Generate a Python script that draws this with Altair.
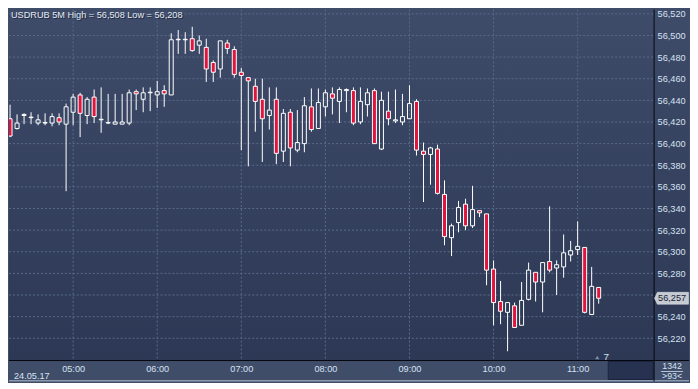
import altair as alt
import pandas as pd

# ---------------- data ----------------
first_minute = 250          # 04:10, one candle every 5 minutes
step = 5
opens = [56417, 56423, 56414, 56426, 56424, 56419, 56419, 56419, 56424, 56418,
         56429, 56445, 56426, 56443, 56422, 56419, 56418, 56418, 56419, 56448,
         56441, 56447, 56445, 56449, 56445, 56496, 56496, 56497, 56491, 56489,
         56475, 56469, 56493, 56487, 56466, 56461, 56453, 56441, 56426, 56441,
         56393, 56429, 56394, 56400, 56434, 56414, 56434, 56446, 56439, 56449,
         56449, 56420, 56436, 56449, 56395, 56430, 56421, 56420, 56423, 56439,
         56393, 56390, 56395, 56353, 56313, 56327, 56344, 56324, 56338, 56335,
         56284, 56254, 56244, 56250, 56232, 56256, 56281, 56272, 56291, 56285,
         56286, 56297, 56302, 56304, 56242, 56267]
highs = [56426, 56436, 56427, 56428, 56429, 56427, 56428, 56428, 56428, 56437,
         56446, 56447, 56443, 56450, 56452, 56446, 56446, 56446, 56450, 56450,
         56452, 56452, 56458, 56454, 56502, 56505, 56503, 56508, 56500, 56497,
         56477, 56495, 56496, 56490, 56470, 56461, 56460, 56460, 56452, 56452,
         56432, 56432, 56431, 56443, 56451, 56451, 56450, 56452, 56452, 56451,
         56452, 56452, 56451, 56451, 56448, 56448, 56450, 56446, 56454, 56441,
         56401, 56397, 56399, 56366, 56326, 56347, 56349, 56361, 56338, 56335,
         56292, 56273, 56253, 56253, 56272, 56290, 56281, 56290, 56342, 56292,
         56316, 56310, 56328, 56304, 56286, 56267]
lows = [56415, 56406, 56413, 56418, 56418, 56417, 56417, 56416, 56417, 56356,
        56417, 56406, 56418, 56419, 56410, 56418, 56418, 56418, 56417, 56431,
        56429, 56430, 56433, 56434, 56445, 56483, 56483, 56485, 56483, 56457,
        56457, 56461, 56483, 56461, 56394, 56379, 56411, 56383, 56413, 56381,
        56383, 56379, 56392, 56392, 56411, 56414, 56425, 56427, 56419, 56429,
        56417, 56418, 56425, 56400, 56394, 56417, 56419, 56417, 56423, 56389,
        56346, 56362, 56353, 56306, 56296, 56318, 56320, 56322, 56332, 56269,
        56232, 56233, 56208, 56230, 56232, 56255, 56254, 56244, 56281, 56260,
        56276, 56291, 56297, 56243, 56242, 56252]
closes = [56424, 56407, 56419, 56427, 56424.5, 56422, 56419.5, 56425, 56420, 56434,
          56443, 56428, 56441, 56425, 56422.5, 56419.5, 56420, 56420, 56447, 56446,
          56447, 56447.5, 56448, 56446, 56496, 56496.5, 56496.5, 56486, 56495, 56469,
          56466, 56495, 56488, 56464, 56463, 56458, 56439, 56423, 56431, 56391,
          56428, 56396, 56401, 56435, 56413, 56438, 56447, 56442, 56450, 56450,
          56419, 56439, 56447, 56400, 56440, 56423, 56422, 56425, 56437, 56394,
          56390, 56396, 56354, 56314, 56324, 56341, 56324, 56339, 56336, 56283,
          56253, 56245, 56253, 56230, 56255, 56283, 56272, 56290, 56283, 56288,
          56299, 56301, 56305, 56244, 56268, 56257]

title_text = "USDRUB 5M High = 56,508 Low = 56,208"
date_text = "24.05.17"
hour_ticks = [300, 360, 420, 480, 540, 600, 660]          # 05:00 ... 11:00
price_ticks = list(range(56220, 56521, 20))
last_price = [56257]
corner_top, corner_bottom = "1342", ">93<"
bar_count_text = "7"

# ---------------- layout / style ----------------
W, H = 647, 352           # plot area
RB, BB = 35, 21           # right axis band, bottom axis band (whole chart 682 x 373)
x_dom = [254.25, 714.55]
y_dom = [56199.43, 56523.97]
FONT = "Liberation Sans"
FS = 9.2
RED = "#e0143c"
GRID = "#586a8c"
LABEL = "#d6e2f2"

df = pd.DataFrame({"o": opens, "h": highs, "l": lows, "c": closes})
df["t"] = [first_minute + step * i for i in range(len(df))]
df["top"] = df[["o", "c"]].max(axis=1)
df["bot"] = df[["o", "c"]].min(axis=1)
df["dir"] = ["down" if c < o else "up" for o, c in zip(df.o, df.c)]

xscale = alt.Scale(domain=x_dom, nice=False, zero=False, padding=0)
yscale = alt.Scale(domain=y_dom, nice=False, zero=False, padding=0)
xaxis = alt.Axis(values=hour_ticks, labelExpr="utcFormat(datum.value*60000, '%H:%M')",
                 grid=False, ticks=False, domain=False, labelPadding=4, labelFlush=False,
                 labelFont=FONT, labelFontSize=FS, labelColor=LABEL, title=None, zindex=1)
yaxis = alt.Axis(orient="right", values=[v for v in price_ticks if v != 56260], format=",d",
                 grid=False, ticks=False, domain=False, labelPadding=3,
                 labelFont=FONT, labelFontSize=FS, labelColor=LABEL, title=None, zindex=1)


def X(f):
    return alt.X(f, type="quantitative", scale=xscale, axis=xaxis)


def Y(f):
    return alt.Y(f, type="quantitative", scale=yscale, axis=yaxis)


one = pd.DataFrame({"a": [0]})

bg = alt.Chart(one).mark_rect(
    fill=alt.Gradient(gradient="linear", x1=0, x2=0, y1=0, y2=1,
                      stops=[alt.GradientStop(color="#3e4b69", offset=0),
                             alt.GradientStop(color="#2c3854", offset=1)])
).encode(x=alt.value(0), x2=alt.value(W + RB), y=alt.value(0), y2=alt.value(H))

bottom_line = alt.Chart(one).mark_rect(fill="#8c98ae").encode(
    x=alt.value(0), x2=alt.value(W + RB), y=alt.value(H + BB - 1.5), y2=alt.value(H + BB))
dark_box = alt.Chart(one).mark_rect(fill="#26324f", stroke="#1b2440", strokeWidth=1).encode(
    x=alt.value(W - 46), x2=alt.value(W - 1), y=alt.value(H + 1), y2=alt.value(H + BB - 2))

hgrid = alt.Chart(pd.DataFrame({"v": price_ticks})).mark_rule(
    color=GRID, strokeDash=[2, 2], strokeWidth=1).encode(
    y=Y("v"), x=alt.value(0), x2=alt.value(W))
vgrid = alt.Chart(pd.DataFrame({"m": hour_ticks})).mark_rule(
    color=GRID, strokeDash=[2, 2], strokeWidth=1).encode(
    x=X("m"), y=alt.value(0), y2=alt.value(H))

base = alt.Chart(df)
wick_hi = base.mark_rule(color="white", strokeWidth=1, clip=True).encode(x=X("t"), y=Y("h"), y2="top")
wick_lo = base.mark_rule(color="white", strokeWidth=1, clip=True).encode(x=X("t"), y=Y("bot"), y2="l")
bodies_up = base.transform_filter("datum.dir == 'up'").mark_bar(
    size=4, fill="transparent", stroke="white", strokeWidth=1, clip=True).encode(
    x=X("t"), y=Y("o"), y2="c")
bodies_dn = base.transform_filter("datum.dir == 'down'").mark_bar(
    size=4, fill=RED, stroke="white", strokeWidth=1, clip=True).encode(
    x=X("t"), y=Y("o"), y2="c")

frame_v = alt.Chart(one).mark_rule(color="#05080f", strokeWidth=1).encode(
    x=alt.value(W), y=alt.value(0), y2=alt.value(H + BB))
frame_h = alt.Chart(one).mark_rule(color="#05080f", strokeWidth=1).encode(
    x=alt.value(0), x2=alt.value(W + RB), y=alt.value(H))

pdf = pd.DataFrame({"p": last_price})
pdf["lbl"] = ["{:,}".format(p) for p in last_price]
price_box = alt.Chart(pdf).mark_point(
    shape="M -1 0 L -0.84 -0.35 L 1 -0.35 L 1 0.35 L -0.84 0.35 Z",
    filled=True, fill="#c5cad3", stroke="#e6eaf0", strokeWidth=0.5, opacity=1, size=1156
).encode(x=alt.value(W + 17.5), y=Y("p"))
price_txt = alt.Chart(pdf).mark_text(
    align="left", baseline="middle", font=FONT, fontSize=FS, color="#1c2436"
).encode(x=alt.value(W + 4), y=Y("p"), text="lbl:N")

title_shadow = alt.Chart(one).mark_text(
    text=title_text, align="left", baseline="middle", font=FONT, fontSize=FS,
    color="#141b2c", opacity=0.7).encode(x=alt.value(3), y=alt.value(6))
title = alt.Chart(one).mark_text(
    text=title_text, align="left", baseline="middle", font=FONT, fontSize=FS,
    color="#e4eaf3").encode(x=alt.value(2), y=alt.value(5))
date_lbl = alt.Chart(one).mark_text(
    text=date_text, align="left", baseline="middle", font=FONT, fontSize=FS,
    color=LABEL).encode(x=alt.value(5), y=alt.value(H + 15.5))
tri = alt.Chart(one).mark_point(shape="triangle-up", filled=True, fill="#7d8ca6",
                                size=18, opacity=1).encode(x=alt.value(W - 57), y=alt.value(H - 3))
cnt = alt.Chart(one).mark_text(
    text=bar_count_text, align="center", baseline="middle", font=FONT, fontSize=10,
    color=LABEL).encode(x=alt.value(W - 48), y=alt.value(H - 4))
c_top = alt.Chart(one).mark_text(
    text=corner_top, align="center", baseline="middle", font=FONT, fontSize=8.8,
    color=LABEL).encode(x=alt.value(W + 18), y=alt.value(H + 5.5))
c_sep = alt.Chart(one).mark_rule(color="#b8c6dc", strokeWidth=1).encode(
    x=alt.value(W + 7), x2=alt.value(W + 29), y=alt.value(H + 11))
c_bot = alt.Chart(one).mark_text(
    text=corner_bottom, align="center", baseline="middle", font=FONT, fontSize=8.8,
    color=LABEL).encode(x=alt.value(W + 18), y=alt.value(H + 15.5))

chart = alt.layer(
    bg, bottom_line, dark_box, hgrid, vgrid, wick_hi, wick_lo, bodies_up, bodies_dn,
    frame_v, frame_h, price_box, price_txt, title_shadow, title, date_lbl, tri, cnt,
    c_top, c_sep, c_bot
).properties(
    width=W, height=H, padding=0
).configure(
    background="#3f4d69"
).configure_view(
    stroke=None
)

chart.save("out.html", embed_options={"renderer": "svg", "actions": False})
